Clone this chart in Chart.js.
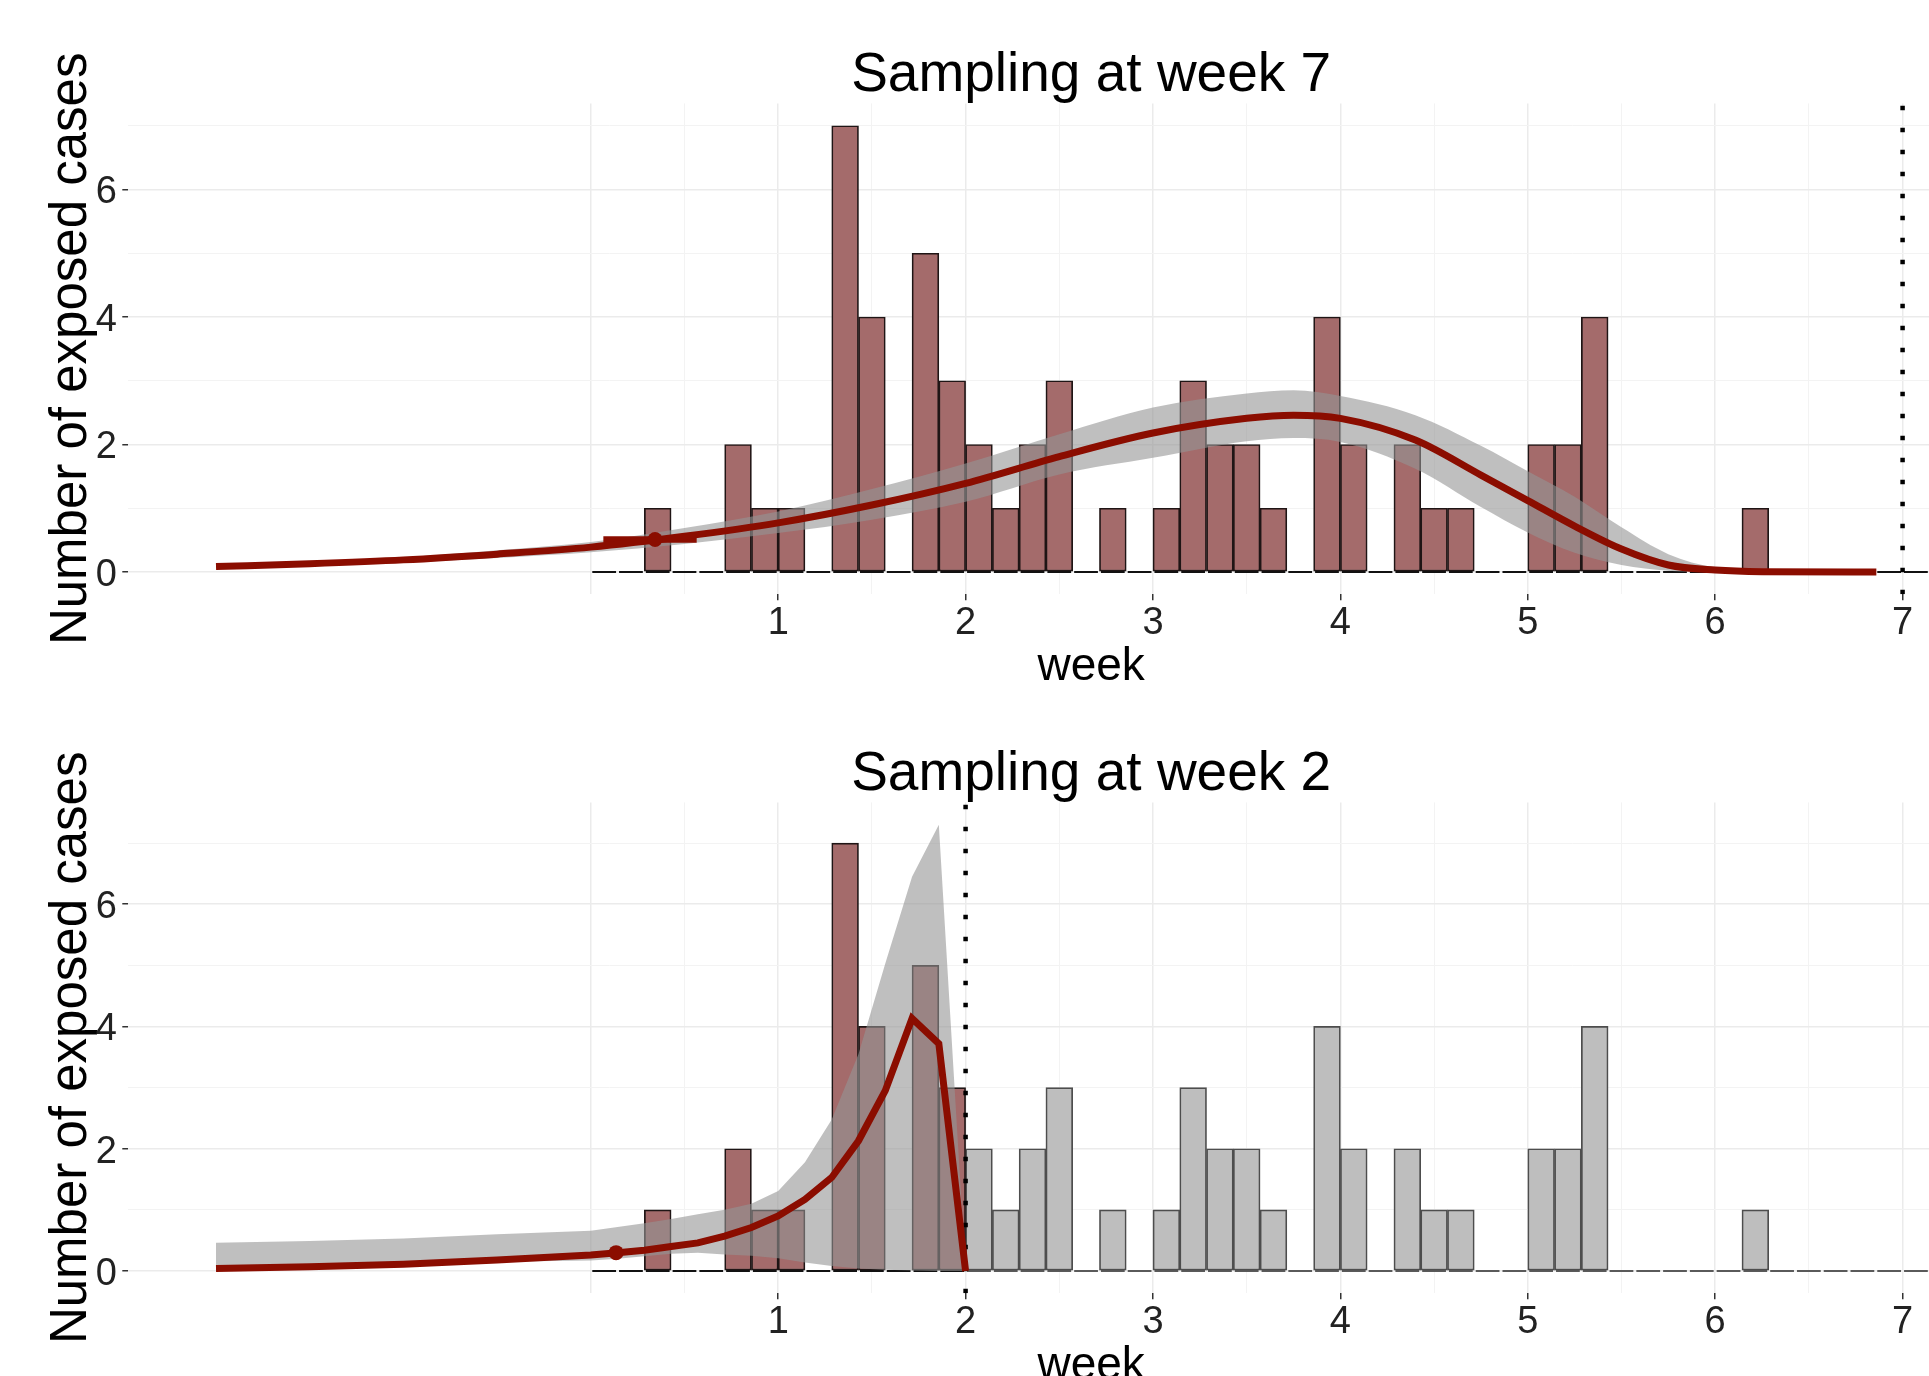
<!DOCTYPE html>
<html>
<head>
<meta charset="utf-8">
<script src="https://cdn.jsdelivr.net/npm/chart.js@4.4.1/dist/chart.umd.min.js"></script>
<style>
  html, body { margin: 0; padding: 0; background: #fff; overflow: hidden; }
  #wrap { position: relative; width: 1929px; height: 1376px; overflow: hidden; background: #fff; }
  canvas { position: absolute; left: 0; }
  #c1 { top: 0; }
  #c2 { top: 699px; }
</style>
</head>
<body>
<div id="wrap">
  <canvas id="c1" width="2054" height="699"></canvas>
  <canvas id="c2" width="2054" height="699"></canvas>
</div>
<script>
// ---------------- data ----------------
// daily histogram: day index of each non-empty bin ([day, day+1) in days) and its count
const binDays   = [2, 5, 6, 7, 9, 10, 12, 13, 14, 15, 16, 17, 19, 21, 22, 23, 24, 25, 27, 28, 30, 31, 32, 35, 36, 37, 43];
const binCounts = [1, 2, 1, 1, 7, 4, 5, 3, 2, 1, 2, 3, 1, 1, 3, 2, 2, 1, 4, 2, 2, 1, 1, 2, 2, 4, 1];
const histRangeWeeks = [0, 7.34];          // span of the (mostly empty) histogram bins

const sampleWeeks = [7, 2];                // sampling time of each panel
const panelTitles = ['Sampling at week 7', 'Sampling at week 2'];

// top panel fitted curve (weeks) with its band
const fitTopWeek = [-2, -1.5, -1, -0.5, 0, 0.5, 1, 1.5, 2, 2.5, 3, 3.5, 3.75, 4, 4.4, 4.75, 5, 5.25, 5.5, 5.75, 6, 6.25, 6.86];
const fitTopMid  = [0.085, 0.13, 0.19, 0.28, 0.39, 0.56, 0.77, 1.05, 1.39, 1.81, 2.18, 2.41, 2.46, 2.41, 2.07, 1.52, 1.12, 0.72, 0.36, 0.11, 0.03, 0.005, 0];
const fitTopLow  = [0.06, 0.10, 0.15, 0.22, 0.31, 0.44, 0.61, 0.82, 1.10, 1.53, 1.79, 2.05, 2.10, 2.04, 1.62, 1.02, 0.62, 0.30, 0.11, 0.02, 0, 0, 0];
const fitTopHigh = [0.11, 0.16, 0.23, 0.34, 0.47, 0.69, 0.95, 1.30, 1.70, 2.16, 2.58, 2.80, 2.85, 2.76, 2.46, 1.98, 1.58, 1.18, 0.70, 0.28, 0.07, 0.01, 0];

// bottom panel fitted curve (days) with its band
const fitBotDay  = [-14, -10.5, -7, -3.5, 0, 1, 2, 3, 4, 5, 6, 7, 8, 9, 10, 11, 12, 13, 14];
const fitBotMid  = [0.04, 0.07, 0.11, 0.18, 0.26, 0.30, 0.34, 0.40, 0.46, 0.57, 0.71, 0.90, 1.17, 1.53, 2.13, 2.95, 4.13, 3.72, 0];
const fitBotLow  = [0.02, 0.05, 0.09, 0.15, 0.17, 0.20, 0.24, 0.28, 0.30, 0.27, 0.25, 0.21, 0.14, 0.08, 0.04, 0.02, 0.01, 0, 0];
const fitBotHigh = [0.46, 0.49, 0.53, 0.60, 0.66, 0.72, 0.78, 0.85, 0.93, 1.00, 1.10, 1.31, 1.78, 2.48, 3.55, 5.03, 6.45, 7.30, 0];

// origin estimates: [week, value] and horizontal interval (weeks)
const originTop      = [0.343, 0.51];
const originTopRange = [0.067, 0.565];
const originBot      = [0.135, 0.30];

// axes
const xTickWeeks  = [1, 2, 3, 4, 5, 6, 7];
const xGridWeeks  = [0, 0.5, 1, 1.5, 2, 2.5, 3, 3.5, 4, 4.5, 5, 5.5, 6, 6.5, 7, 7.5];
const yTickValues = [0, 2, 4, 6];
const yGridValues = [0, 1, 2, 3, 4, 5, 6, 7];

// ---------------- helpers ----------------
const FONT = '"Liberation Sans", Arial, Helvetica, sans-serif';
Chart.defaults.font.family = FONT;
const RED = '#8B0D00';
const BAR_RED = '#A46B6B';
const BAND = 'rgba(148,148,148,0.6)';
const DAYS = 7;

const zip = (xs, ys, fx) => xs.map((x, i) => ({ x: fx ? fx(x) : x, y: ys[i] }));
const dayToWeek = d => d / DAYS;
const barPoints = (filter) => binDays
  .map((d, i) => ({ x: (d + 0.5) / DAYS, y: binCounts[i], d }))
  .filter(p => filter(p.d))
  .map(p => ({ x: p.x, y: p.y }));

function baseline(x0, x1, color) {
  return { type: 'line', data: [{ x: x0, y: 0 }, { x: x1, y: 0 }], borderColor: color, borderWidth: 2,
    borderDash: [23.77, 3], borderDashOffset: -1.5, pointRadius: 0, order: 9 };
}
function bars(data, fill, edge) {
  return { type: 'bar', data, backgroundColor: fill, borderColor: edge, borderWidth: 1.7, borderSkipped: false,
    barPercentage: 1, categoryPercentage: 1, grouped: false, order: 8 };
}
function band(low, high, smooth) {
  const common = { type: 'line', pointRadius: 0, borderWidth: 0, borderColor: 'rgba(0,0,0,0)', order: 6,
    cubicInterpolationMode: smooth ? 'monotone' : 'default', tension: 0 };
  return [
    Object.assign({}, common, { data: low, fill: false }),
    Object.assign({}, common, { data: high, fill: '-1', backgroundColor: BAND })
  ];
}
function vline(week, y0, y1) {
  return { type: 'line', data: [{ x: week, y: y0 }, { x: week, y: y1 }], borderColor: '#000', borderWidth: 4.5,
    borderDash: [4.5, 17.5], pointRadius: 0, order: 3 };
}
function fitLine(data, smooth) {
  return { type: 'line', data, borderColor: RED, borderWidth: 7, pointRadius: 0, order: 1,
    cubicInterpolationMode: smooth ? 'monotone' : 'default', tension: 0, borderJoinStyle: 'miter', borderCapStyle: 'butt' };
}
function dot(p) {
  return { type: 'line', data: [{ x: p[0], y: p[1] }], showLine: false, pointRadius: 7.5,
    pointBackgroundColor: RED, pointBorderWidth: 0, pointBorderColor: RED, order: 0 };
}

function panel(id, title, yMin, yMax, datasets) {
  return new Chart(document.getElementById(id), {
    type: 'line',
    data: { datasets },
    options: {
      responsive: false, animation: false, devicePixelRatio: 1, events: [],
      layout: { padding: 0, autoPadding: false },
      plugins: {
        legend: { display: false }, tooltip: { enabled: false },
        title: { display: true, text: title, fullSize: false, color: '#000',
          font: { family: FONT, size: 55, weight: 'normal', lineHeight: 1 }, padding: { top: 48.2, bottom: 0.2 } }
      },
      scales: {
        x: {
          type: 'linear', min: -2.468, max: 7.808, offset: false,
          afterBuildTicks: s => { s.ticks = xGridWeeks.map(v => ({ value: v })); },
          afterFit: s => { s.height = 104.7; },
          border: { display: false },
          grid: { offset: false, drawTicks: true, tickLength: 6,
            color: c => (c.tick && Number.isInteger(c.tick.value)) ? '#EBEBEB' : '#F3F3F3',
            lineWidth: c => (c.tick && Number.isInteger(c.tick.value)) ? 1.5 : 1,
            tickColor: c => (c.tick && xTickWeeks.includes(c.tick.value)) ? '#333' : 'rgba(0,0,0,0)',
            tickWidth: 1.5 },
          ticks: { autoSkip: false, maxRotation: 0, minRotation: 0, padding: 0, color: '#222',
            font: { family: FONT, size: 38, lineHeight: 1.2 },
            callback: v => xTickWeeks.includes(v) ? String(v) : '' },
          title: { display: true, text: 'week', color: '#000',
            font: { family: FONT, size: 46, lineHeight: 1 }, padding: { top: 0, bottom: 8.9 } }
        },
        y: {
          type: 'linear', min: yMin, max: yMax,
          afterBuildTicks: s => { s.ticks = yGridValues.map(v => ({ value: v })); },
          afterFit: s => { s.width = 128.3; },
          border: { display: false },
          grid: { drawTicks: true, tickLength: 6,
            color: c => (c.tick && yTickValues.includes(c.tick.value)) ? '#EBEBEB' : '#F3F3F3',
            lineWidth: c => (c.tick && yTickValues.includes(c.tick.value)) ? 1.5 : 1,
            tickColor: c => (c.tick && yTickValues.includes(c.tick.value)) ? '#333' : 'rgba(0,0,0,0)',
            tickWidth: 1.5 },
          ticks: { autoSkip: false, padding: 5.3, labelOffset: 3.5, color: '#222',
            font: { family: FONT, size: 38, lineHeight: 1.2 },
            callback: v => yTickValues.includes(v) ? String(v) : '' },
          title: { display: true, text: 'Number of exposed cases', color: '#000',
            font: { family: FONT, size: 51, lineHeight: 1.2 }, padding: { top: 41.7, bottom: 0 } }
        }
      }
    }
  });
}

// ---------------- top panel: sampling at week 7 ----------------
const topMin = -0.35, topMax = 7.35;
panel('c1', panelTitles[0], topMin, topMax, [
  baseline(histRangeWeeks[0], histRangeWeeks[1], '#111'),
  bars(barPoints(d => dayToWeek(d) < sampleWeeks[0]), BAR_RED, '#1f1515'),
  ...band(zip(fitTopWeek, fitTopLow), zip(fitTopWeek, fitTopHigh), true),
  vline(sampleWeeks[0], topMin, topMax),
  { type: 'line', data: [{ x: originTopRange[0], y: originTop[1] }, { x: originTopRange[1], y: originTop[1] }],
    borderColor: RED, borderWidth: 6.5, pointRadius: 0, order: 2 },
  fitLine(zip(fitTopWeek, fitTopMid), true),
  dot(originTop)
]);

// ---------------- bottom panel: sampling at week 2 ----------------
const botMin = -0.365, botMax = 7.665;
panel('c2', panelTitles[1], botMin, botMax, [
  baseline(histRangeWeeks[0], sampleWeeks[1], '#111'),
  baseline(sampleWeeks[1], histRangeWeeks[1], '#5a5a5a'),
  bars(barPoints(d => dayToWeek(d) < sampleWeeks[1]), BAR_RED, '#1f1515'),
  bars(barPoints(d => dayToWeek(d) >= sampleWeeks[1]), '#BEBEBE', '#4d4d4d'),
  ...band(zip(fitBotDay, fitBotLow, dayToWeek), zip(fitBotDay, fitBotHigh, dayToWeek), false),
  vline(sampleWeeks[1], botMin, botMax),
  fitLine(zip(fitBotDay, fitBotMid, dayToWeek), false),
  dot(originBot)
]);
</script>
</body>
</html>
